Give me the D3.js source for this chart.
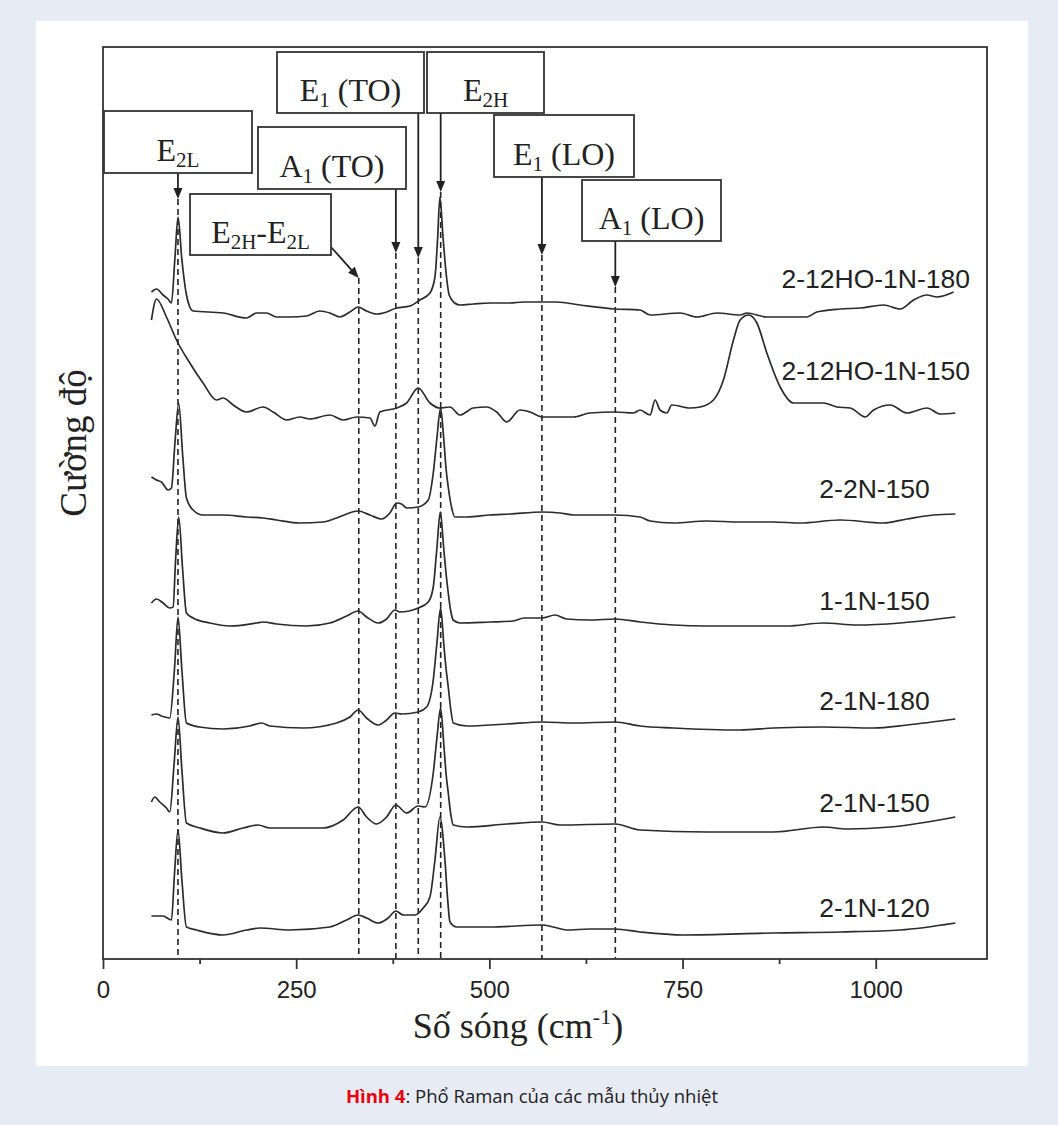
<!DOCTYPE html>
<html>
<head>
<meta charset="utf-8">
<script src="https://cdn.jsdelivr.net/npm/d3@7"></script>
<style>
  body { margin: 0; background: #e7ebf5; }
  svg { display: block; }
</style>
</head>
<body>
<svg id="chart" width="1058" height="1125"></svg>
<script>
// Raman spectra, wavenumber (cm-1) vs stacked intensity (a.u.)
var seriesNames = ["2-12HO-1N-180", "2-12HO-1N-150", "2-2N-150", "1-1N-150", "2-1N-180", "2-1N-150", "2-1N-120"];

var s_12HO_180 = [[62.7,667],[69.2,670],[77.7,664],[84,660],[88.6,656],[93,700],[97.1,742],[102,700],[108,664],[112.3,652],[116.6,648],[155.4,646],[185.7,641],[198.7,646],[211.6,646],[224.6,642],[241.8,642],[263.4,643],[280.6,648],[293.6,646],[306.5,642],[319.5,647],[330.2,652],[341.1,648],[354.1,645],[362.6,646],[380,651],[397.2,653],[410.1,659],[423.1,666],[429.6,682],[433,720],[436,762],[440,722],[444,686],[448,664],[455,656],[461.9,654],[479.2,655],[500.8,656],[526.7,656],[543.9,657],[568.5,657],[587.2,657],[617.3,654],[662.7,650],[695,649],[708,644],[746.8,646],[768.5,642],[794.4,646],[824.5,644],[833.2,646],[859.1,642],[910.9,642],[923.9,647],[954,650],[979.9,651],[1010.1,654],[1031.7,650],[1049,659],[1066.3,664],[1079.3,662],[1100.8,667]];

var s_12HO_150 = [[62.7,639],[69.2,660],[82.1,642],[95.1,619],[112.3,596],[129.5,576],[146.9,559],[155.4,561],[168.4,554],[185.7,547],[207.2,552],[220.2,547],[237.5,539],[254.7,542],[267.7,540],[293.6,544],[310.8,539],[328.2,542],[345.4,541],[351.9,533],[358.3,547],[380,551],[392.9,556],[407.9,571],[423.1,556],[436,551],[449,552],[461.9,544],[479.2,551],[496.5,552],[509.5,547],[522.4,537],[539.6,549],[552.6,547],[568.5,542],[608.7,542],[630.3,546],[662.7,547],[686.4,546],[695,549],[708,544],[714.5,559],[720.9,549],[729.6,546],[736.1,554],[759.8,551],[772.7,552],[790,559],[802.9,579],[815.9,619],[824.5,639],[835.3,644],[846.2,636],[859.1,606],[876.3,572],[893.6,556],[910.9,556],[932.4,556],[949.8,552],[967,551],[986.4,542],[997.2,549],[1018.8,554],[1040.4,546],[1066.3,551],[1083.5,545],[1103,546]];

var s_2N_150 = [[62.7,482],[69.2,479],[75.6,477],[84.2,469],[88.6,471],[93,515],[98,556],[103,505],[108,461],[116.6,449],[129.5,444],[155.4,444],[185.7,442],[207.2,441],[224.6,439],[254.7,436],[284.9,437],[302.3,441],[330.2,448],[345.4,444],[360.5,440],[371.3,446],[380,456],[386.4,455],[392.9,451],[407.9,452],[420.9,459],[427.4,486],[432,520],[436.9,551],[441,520],[444,490],[446.8,472],[451,452],[455.4,442],[470.6,442],[500.8,444],[526.7,445],[568.5,447],[591.4,446],[608.7,444],[662.7,444],[695,442],[708,438],[738.2,436],[781.4,438],[824.5,437],[867.7,437],[902.2,436],[954,439],[1010.1,436],[1040.4,440],[1074.9,444],[1103,445]];

var s_1N1_150 = [[62.7,356],[69.2,360],[77.7,356],[86.4,351],[90.7,352],[94,400],[98,442],[103,390],[108,346],[116.6,341],[138.2,336],[164.1,333],[198.7,336],[207.2,337],[224.6,335],[263.4,333],[293.6,336],[315.2,343],[330.2,348],[341.1,342],[356.1,336],[367,340],[377.8,349],[384.2,347],[407.9,351],[420.9,357],[427.4,372],[432,410],[436.5,447],[441,410],[444,385],[446.8,366],[450,348],[453.3,339],[461.9,336],[500.8,337],[531,338],[545,341],[568.5,341],[585,344],[600,340],[630.3,339],[662.7,340],[695,337],[738.2,334],[781.4,333],[885,333],[932.4,336],[975.7,334],[1031.7,336],[1103,342]];

var s_1N_180 = [[62.7,244],[69.2,245],[75.6,243],[86.4,241],[92.5,290],[97.1,342],[102,290],[108,236],[125.2,232],[155.4,230],[190,233],[205.1,236],[215.9,233],[259,231],[302.3,236],[319.5,242],[330.2,249],[341.1,241],[356.1,234],[367,239],[377.8,246],[386.4,245],[407.9,247],[418.8,252],[427.4,279],[432,315],[436.9,351],[441,315],[444,290],[446.8,272],[450,250],[453.3,236],[470.6,233],[522.4,235],[568.5,237],[608.7,236],[662.7,237],[695,233],[738.2,231],[824.5,229],[867.7,231],[932.4,232],[997.2,231],[1040.4,234],[1103,240]];

var s_1N_150 = [[62.7,157],[67,162],[73.4,157],[82.1,151],[86.4,147],[92,195],[97.1,242],[102,190],[108,136],[125.2,131],[155.4,126],[181.3,131],[200.7,134],[215.9,131],[241.8,131],[284.9,131],[310.8,139],[330.2,152],[341.1,142],[354.1,135],[367,142],[379,154],[392.9,146],[407.9,153],[416.6,152],[427.4,186],[432,220],[436.9,251],[441,215],[444,185],[446.8,166],[450,145],[453.3,134],[470.6,132],[522.4,135],[568.5,137],[591.4,134],[662.7,135],[695,129],[781.4,127],[867.7,127],[932.4,132],[962.7,130],[1018.8,132],[1103,142]];

var s_1N_120 = [[62.7,43],[77.7,43],[88.6,39],[92.5,85],[97.1,129],[102,80],[108,32],[121,29],[155.4,24],[185.7,29],[202.9,31],[241.8,29],[293.6,32],[315.2,39],[330.2,44],[341.1,41],[356.1,36],[369.1,41],[379,48],[388.5,44],[403.7,44],[414.4,51],[423.1,62],[429.6,99],[436,142],[442.5,99],[446,60],[449,37],[457.7,32],[500.8,32],[568.5,34],[582.8,32],[600.1,29],[630.3,30],[662.7,30],[695,27],[751.1,24],[867.7,26],[954,27],[1031.7,29],[1103,36]];

var seriesValues = [s_12HO_180, s_12HO_150, s_2N_150, s_1N1_150, s_1N_180, s_1N_150, s_1N_120];

// label anchor (right end, wavenumber) and baseline intensity
var labelEnd = [1122, 1122, 1070, 1070, 1070, 1070, 1070];
var labelLevel = [671, 579, 461, 349, 249, 147, 42];

// phonon modes marked with dashed lines
var modeNames = ["E2L", "E2H-E2L", "A1(TO)", "E1(TO)", "E2H", "E1(LO)", "A1(LO)"];
var modePos = [97, 331, 379, 408, 437, 568, 663];
var modeTip = [760, 681, 706, 701, 767, 704, 672];

var xTicks = [0, 250, 500, 750, 1000];
var xMinor = [125, 375, 625, 875];

// box layout for mode labels (pixels)
var boxes = [
  {x: 104, y: 111, w: 148, h: 62, main: "E", sub: "2L", rest: ""},
  {x: 190, y: 194, w: 141, h: 61, main: "E", sub: "2H", rest: "-E", sub2: "2L"},
  {x: 258, y: 127, w: 148, h: 62, main: "A", sub: "1", rest: " (TO)"},
  {x: 277, y: 52, w: 147, h: 61, main: "E", sub: "1", rest: " (TO)"},
  {x: 427, y: 52, w: 117, h: 61, main: "E", sub: "2H", rest: ""},
  {x: 494, y: 115, w: 140, h: 62, main: "E", sub: "1", rest: " (LO)"},
  {x: 582, y: 180, w: 139, h: 61, main: "A", sub: "1", rest: " (LO)"}
];

var svg = d3.select("#chart");
var plotL = 103, plotR = 987, plotT = 47, plotB = 959;

var x = d3.scaleLinear().domain([0, 1144]).range([plotL, plotR]);
var y = d3.scaleLinear().domain([0, 912]).range([plotB, plotT]);

// white panel
svg.append("rect").attr("x", 36).attr("y", 21).attr("width", 992).attr("height", 1045).attr("fill", "#fff");

// dashed mode lines
var g = svg.append("g");
modePos.forEach(function(p, i) {
  g.append("line")
    .attr("x1", x(p)).attr("x2", x(p))
    .attr("y1", y(modeTip[i])).attr("y2", plotB)
    .attr("stroke", "#222").attr("stroke-width", 1.6)
    .attr("stroke-dasharray", "6,4");
});

// spectra
var line = d3.line().x(function(d){ return x(d[0]); }).y(function(d){ return y(d[1]); })
  .curve(d3.curveMonotoneX);
seriesValues.forEach(function(s, i) {
  g.append("path").attr("d", line(s))
    .attr("fill", "none").attr("stroke", "#2b2b2b").attr("stroke-width", 1.7)
    .attr("stroke-linejoin", "round");
  g.append("text")
    .attr("x", x(labelEnd[i])).attr("y", y(labelLevel[i]))
    .attr("text-anchor", "end")
    .attr("font-family", "Liberation Sans, Arial, sans-serif")
    .attr("font-size", 26.5).attr("fill", "#222")
    .text(seriesNames[i]);
});

// boxes + arrows
var arrowFrom = [
  [x(modePos[0]), 173], [331, 247], [x(modePos[2]), 189], [x(modePos[3]), 113],
  [x(modePos[4]), 113], [x(modePos[5]), 177], [x(modePos[6]), 241]
];
boxes.forEach(function(b, i) {
  var tx = x(modePos[i]), ty = y(modeTip[i]);
  var fx = arrowFrom[i][0], fy = arrowFrom[i][1];
  var ang = Math.atan2(ty - fy, tx - fx);
  var hl = 11, hw = 4.5;
  var bx = tx - hl * Math.cos(ang), by = ty - hl * Math.sin(ang);
  svg.append("line").attr("x1", fx).attr("y1", fy).attr("x2", bx).attr("y2", by)
    .attr("stroke", "#222").attr("stroke-width", 1.8);
  var px = -Math.sin(ang), py = Math.cos(ang);
  svg.append("path")
    .attr("d", "M" + tx + "," + ty + "L" + (bx + px*hw) + "," + (by + py*hw) + "L" + (bx - px*hw) + "," + (by - py*hw) + "Z")
    .attr("fill", "#222");

  svg.append("rect").attr("x", b.x).attr("y", b.y).attr("width", b.w).attr("height", b.h)
    .attr("fill", "#fff").attr("stroke", "#333").attr("stroke-width", 1.8);
  var t = svg.append("text")
    .attr("x", b.x + b.w / 2).attr("y", b.y + b.h * 0.81)
    .attr("text-anchor", "middle")
    .attr("font-family", "Liberation Serif, Times New Roman, serif")
    .attr("font-size", 32).attr("fill", "#222");
  t.append("tspan").text(b.main);
  t.append("tspan").attr("font-size", 21).attr("dy", 6).text(b.sub);
  if (b.sub2) {
    t.append("tspan").attr("dy", -6).text(b.rest);
    t.append("tspan").attr("font-size", 21).attr("dy", 6).text(b.sub2);
  } else if (b.rest) {
    t.append("tspan").attr("dy", -6).text(b.rest);
  }
});

// frame
svg.append("rect").attr("x", plotL).attr("y", plotT).attr("width", plotR - plotL).attr("height", plotB - plotT)
  .attr("fill", "none").attr("stroke", "#333").attr("stroke-width", 1.8);

// x axis
var ax = svg.append("g").attr("transform", "translate(0," + plotB + ")")
  .call(d3.axisBottom(x).tickValues(xTicks).tickSize(10).tickPadding(12).tickFormat(d3.format("d")));
ax.select(".domain").remove();
ax.selectAll("line").attr("stroke", "#333").attr("stroke-width", 1.8);
ax.selectAll("text").attr("font-family", "Liberation Sans, Arial, sans-serif")
  .attr("font-size", 24).attr("fill", "#222");
var axm = svg.append("g").attr("transform", "translate(0," + plotB + ")")
  .call(d3.axisBottom(x).tickValues(xMinor).tickSize(5).tickFormat(""));
axm.select(".domain").remove();
axm.selectAll("line").attr("stroke", "#333").attr("stroke-width", 1.8);

// axis titles
var xt = svg.append("text").attr("x", 518).attr("y", 1038).attr("text-anchor", "middle")
  .attr("font-family", "Liberation Serif, Times New Roman, serif").attr("font-size", 36).attr("fill", "#222");
xt.append("tspan").text("Số sóng (cm");
xt.append("tspan").attr("font-size", 22).attr("dy", -14).text("-1");
xt.append("tspan").attr("dy", 14).text(")");

svg.append("text").attr("transform", "translate(86,443) rotate(-90)").attr("text-anchor", "middle")
  .attr("font-family", "Liberation Serif, Times New Roman, serif").attr("font-size", 37).attr("fill", "#222")
  .text("Cường độ");

// caption
var cap = svg.append("text").attr("x", 532).attr("y", 1103).attr("text-anchor", "middle")
  .attr("font-family", "Open Sans, sans-serif").attr("font-size", 18.5).attr("fill", "#222");
cap.append("tspan").attr("fill", "#e8000b").attr("font-weight", "bold").text("Hình 4");
cap.append("tspan").text(": Phổ Raman của các mẫu thủy nhiệt");
</script>
</body>
</html>
